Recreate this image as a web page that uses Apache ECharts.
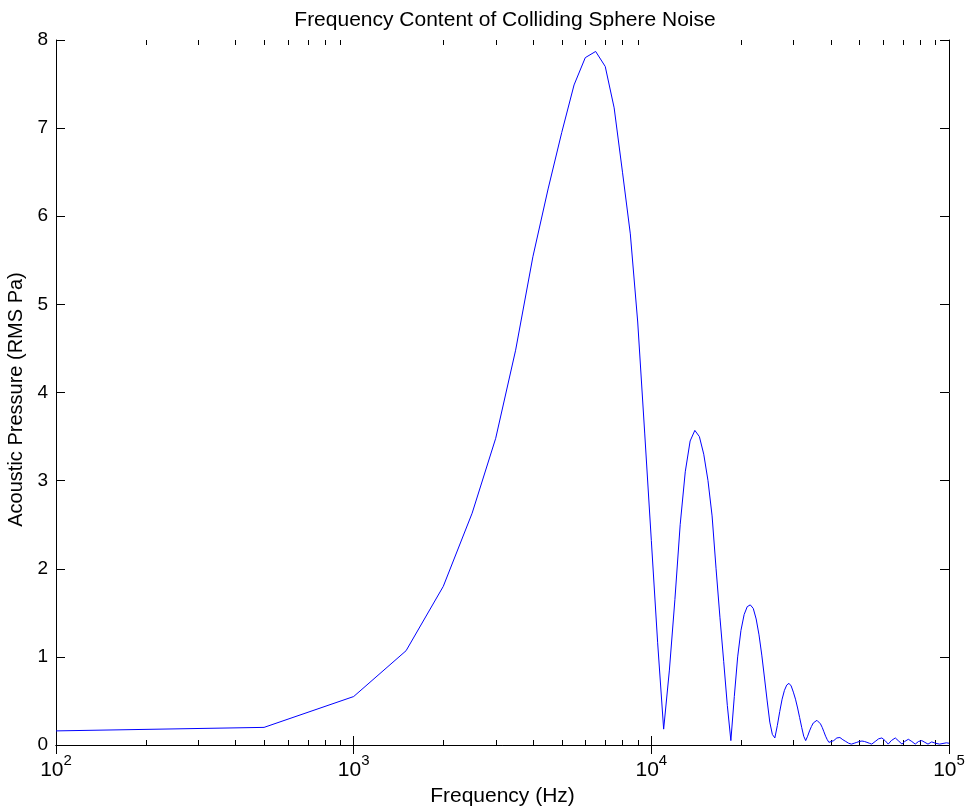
<!DOCTYPE html>
<html><head><meta charset="utf-8">
<script src="https://cdn.jsdelivr.net/npm/echarts@6/dist/echarts.min.js"></script>
<style>html,body{margin:0;padding:0;background:#fff}#c{width:968px;height:807px}</style>
</head><body><div id="c"></div>
<script>
// Frequency samples (Hz) and RMS acoustic pressure (Pa)
const frequencyHz = [
  100, 500, 1000, 1500, 2000, 2500, 3000, 3500, 4000, 4500,
  5000, 5500, 6000, 6500, 7000, 7500, 8000, 8500, 9000, 9500,
  10000, 10500, 11000, 11500, 12000, 12500, 13000, 13500, 14000, 14500,
  15000, 15500, 16000, 16500, 17000, 17500, 18000, 18500, 19000, 19500,
  20000, 20500, 21000, 21500, 22000, 22500, 23000, 23500, 24000, 24500,
  25000, 25500, 26000, 26500, 27000, 27500, 28000, 28500, 29000, 29500,
  30000, 30500, 31000, 31500, 32000, 32500, 33000, 33500, 34000, 34500,
  35000, 35500, 36000, 36500, 37000, 37500, 38000, 38500, 39000, 39500,
  40000, 41000, 42000, 43000, 44000, 45000, 46000, 47000, 48000, 49000,
  50000, 51000, 52000, 53000, 54000, 55000, 56500, 58000, 59500, 61000,
  62500, 64000, 66000, 67500, 69500, 71000, 73000, 75000, 77000, 79000,
  81000, 83000, 85000, 87500, 90000, 93000, 98000, 100000
];
const pressureRms = [
  0.16, 0.20, 0.55, 1.07, 1.80, 2.63, 3.48, 4.48, 5.54, 6.31,
  6.95, 7.49, 7.80, 7.87, 7.70, 7.23, 6.50, 5.80, 4.80, 3.54,
  2.32, 1.16, 0.18, 0.85, 1.65, 2.50, 3.10, 3.45, 3.57, 3.50,
  3.30, 3.00, 2.60, 2.00, 1.45, 0.95, 0.45, 0.05, 0.55, 1.00,
  1.30, 1.48, 1.57, 1.59, 1.55, 1.43, 1.25, 1.02, 0.76, 0.50,
  0.26, 0.12, 0.08, 0.22, 0.38, 0.52, 0.62, 0.68, 0.70, 0.67,
  0.60, 0.52, 0.42, 0.31, 0.20, 0.10, 0.05, 0.10, 0.16, 0.21,
  0.25, 0.27, 0.28, 0.27, 0.24, 0.20, 0.15, 0.10, 0.06, 0.03,
  0.01, 0.05, 0.08, 0.085, 0.06, 0.04, 0.02, 0.01, 0.02, 0.03,
  0.04, 0.045, 0.04, 0.03, 0.02, 0.01, 0.04, 0.07, 0.08, 0.05,
  0.01, 0.05, 0.08, 0.05, 0.01, 0.04, 0.065, 0.04, 0.01, 0.04,
  0.05, 0.03, 0.01, 0.035, 0.02, 0.01, 0.025, 0.02
];
const yTickValues = [0, 1, 2, 3, 4, 5, 6, 7, 8];
const minorTickHz = [
  200, 300, 400, 500, 600, 700, 800, 900,
  2000, 3000, 4000, 5000, 6000, 7000, 8000, 9000,
  20000, 30000, 40000, 50000, 60000, 70000, 80000, 90000
];
const titleText = 'Frequency Content of Colliding Sphere Noise';
const xName = 'Frequency (Hz)';
const yName = 'Acoustic Pressure (RMS Pa)';

const FONT = 'Arial, "Liberation Sans", sans-serif';
const chart = echarts.init(document.getElementById('c'), null, {renderer: 'canvas'});

const axisLineStyle = {show: true, lineStyle: {color: '#000', width: 1}};
const tickStyle = {show: true, inside: true, length: 9, lineStyle: {color: '#000', width: 1}};

const logX = (pos, showLabel) => ({
  type: 'log', logBase: 10, min: 100, max: 100000, position: pos,
  axisLine: axisLineStyle, axisTick: tickStyle, splitLine: {show: false},
  axisLabel: {
    show: showLabel, margin: 8, color: '#000', hideOverlap: false,
    formatter: v => '{b|10}{s|' + Math.round(Math.log10(v)) + '}',
    rich: {
      b: {fontSize: 21, fontFamily: FONT, color: '#000', verticalAlign: 'bottom', lineHeight: 28},
      s: {fontSize: 15, fontFamily: FONT, color: '#000', verticalAlign: 'top', lineHeight: 28}
    }
  }
});
const linY = (pos, showLabel) => ({
  type: 'value', min: yTickValues[0], max: yTickValues[yTickValues.length - 1], interval: 1,
  position: pos, axisLine: axisLineStyle, axisTick: tickStyle, splitLine: {show: false},
  axisLabel: {show: showLabel, margin: 8, color: '#000', fontSize: 19, fontFamily: FONT}
});

const xMain = Object.assign(logX('bottom', true), {
  name: xName, nameLocation: 'middle', nameGap: 38,
  nameTextStyle: {fontSize: 21, fontFamily: FONT, color: '#000'}
});
const yMain = Object.assign(linY('left', true), {
  name: yName, nameLocation: 'middle', nameGap: 23,
  nameTextStyle: {fontSize: 20, fontFamily: FONT, color: '#000', padding: [0, 14, 0, 0]}
});

chart.setOption({
  backgroundColor: '#fff',
  animation: false,
  title: {
    text: titleText, left: 500, top: 5, textAlign: 'center',
    textStyle: {fontSize: 21, fontWeight: 'normal', fontFamily: FONT, color: '#000'}
  },
  grid: {left: 56, right: 19, top: 40, bottom: 62, containLabel: false, outerBoundsMode: 'none'},
  xAxis: [xMain, logX('top', false)],
  yAxis: [yMain, linY('right', false)],
  series: [
    {
      type: 'line', xAxisIndex: 0, yAxisIndex: 0,
      data: frequencyHz.map((f, i) => [f, pressureRms[i]]),
      showSymbol: false, symbol: 'none', smooth: false,
      lineStyle: {color: '#0000ff', width: 1}, itemStyle: {color: '#0000ff'}
    },
    {
      type: 'custom', xAxisIndex: 0, yAxisIndex: 0, silent: true, clip: false,
      data: minorTickHz.map(f => [f, 0]),
      encode: {x: 0, y: 1},
      renderItem: (params, api) => {
        const b = api.coord([api.value(0), yTickValues[0]]);
        const t = api.coord([api.value(0), yTickValues[yTickValues.length - 1]]);
        const x = Math.round(b[0]) + 0.5;
        return {type: 'group', children: [
          {type: 'line', shape: {x1: x, y1: b[1], x2: x, y2: b[1] - 5}, style: {stroke: '#000', lineWidth: 1}},
          {type: 'line', shape: {x1: x, y1: t[1], x2: x, y2: t[1] + 5}, style: {stroke: '#000', lineWidth: 1}}
        ]};
      }
    }
  ]
});
</script></body></html>
